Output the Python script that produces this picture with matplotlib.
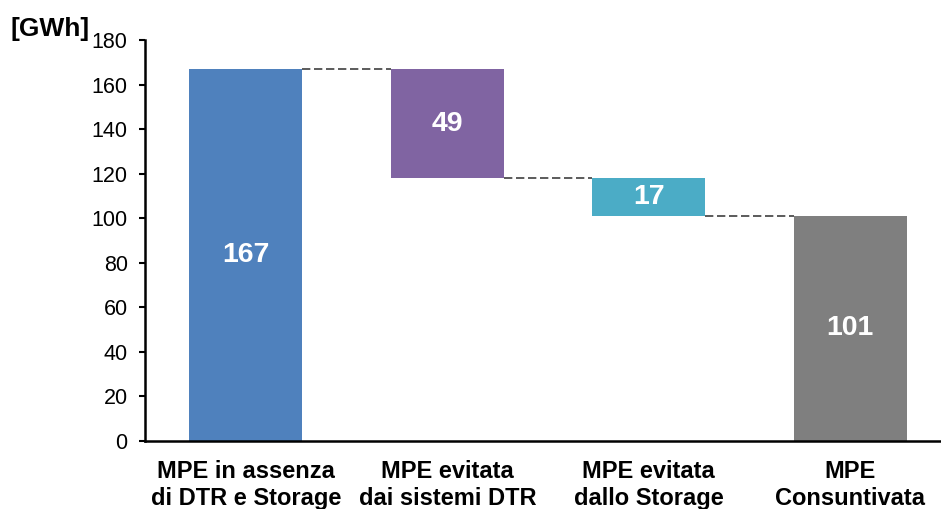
import matplotlib
matplotlib.use("Agg")
import matplotlib.pyplot as plt

categories = ["MPE in assenza\ndi DTR e Storage", "MPE evitata\ndai sistemi DTR",
              "MPE evitata\ndallo Storage", "MPE\nConsuntivata"]
values = [167, -49, -17, 101]
labels = ["167", "49", "17", "101"]
colors = ["#4F81BD", "#8064A2", "#4BACC6", "#7F7F7F"]
yticks = [0, 20, 40, 60, 80, 100, 120, 140, 160, 180]

plt.rcParams['font.family'] = ['Liberation Sans', 'DejaVu Sans']

fig = plt.figure(figsize=(9.41, 5.09), dpi=100)
ax = fig.add_axes([145/941, 1-441/509, 1-145/941, 401/509])

# waterfall bottoms/heights
bottoms, heights = [], []
running = 0
for i, v in enumerate(values):
    if i == 0 or i == len(values) - 1:
        bottoms.append(0); heights.append(v); running = v
    else:
        bottoms.append(running + v); heights.append(-v); running += v

xs = list(range(len(categories)))
width = 0.56
ax.bar(xs, heights, bottom=bottoms, width=width, color=colors, zorder=2)

# connectors
tops = [b + h for b, h in zip(bottoms, heights)]
for i in range(len(values) - 1):
    lvl = tops[i] if i == 0 else bottoms[i]
    ax.plot([xs[i] + width/2, xs[i+1] - width/2], [lvl, lvl], ls=(0, (5, 2.2)),
            color="#404040", lw=1.2, zorder=1)

for x, b, h, t in zip(xs, bottoms, heights, labels):
    ax.text(x, b + h/2, t, ha="center", va="center", color="white",
            fontsize=20.5, fontweight="bold")

ax.set_xlim(-0.5, 3.45)
ax.set_ylim(0, 180)
ax.set_yticks(yticks)
ax.set_xticks(xs)
ax.set_xticklabels(categories, fontsize=17, fontweight="bold", linespacing=1.2)
ax.tick_params(axis="x", length=0, pad=14)
ax.tick_params(axis="y", length=4.5, width=1.5, labelsize=15.5, direction="out", pad=8)
for s in ["top", "right"]:
    ax.spines[s].set_visible(False)
ax.spines["left"].set_linewidth(1.8)
ax.spines["bottom"].set_linewidth(1.8)

fig.text(10/941, 1-29/509, "[GWh]", fontsize=19, fontweight="bold", va="center", ha="left")

fig.savefig("out.png", dpi=100)
